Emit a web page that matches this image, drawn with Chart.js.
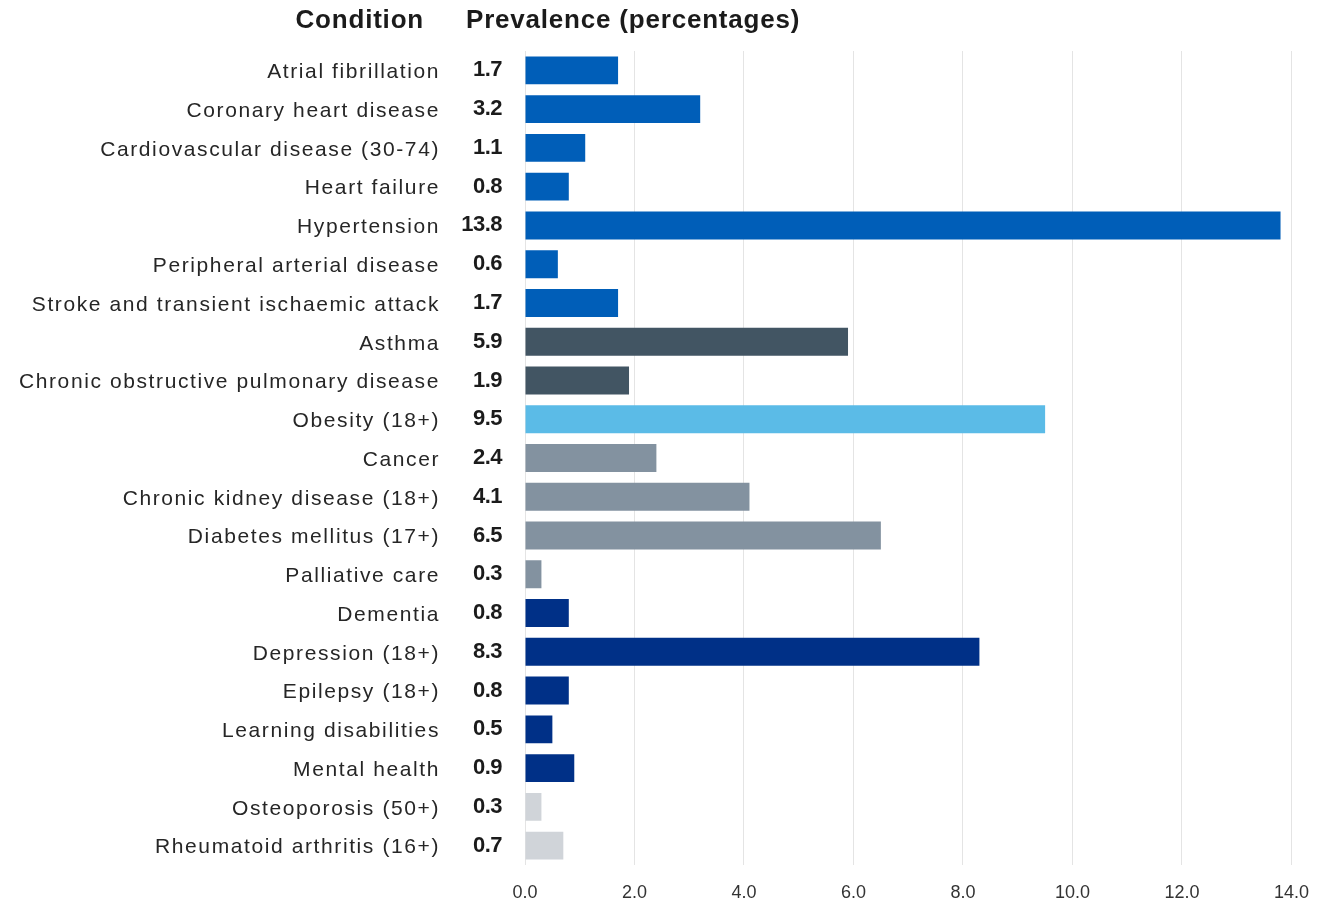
<!DOCTYPE html>
<html>
<head>
<meta charset="utf-8">
<script src="https://cdn.jsdelivr.net/npm/chart.js@4"></script>
<style>
  html, body { margin: 0; padding: 0; background: #fff; }
  canvas { display: block; }
</style>
</head>
<body>
<canvas id="chart" width="1326" height="906"></canvas>
<script>
// conditions, top to bottom
const conditions = [
  'Atrial fibrillation', 'Coronary heart disease', 'Cardiovascular disease (30-74)',
  'Heart failure', 'Hypertension', 'Peripheral arterial disease',
  'Stroke and transient ischaemic attack', 'Asthma', 'Chronic obstructive pulmonary disease',
  'Obesity (18+)', 'Cancer', 'Chronic kidney disease (18+)', 'Diabetes mellitus (17+)',
  'Palliative care', 'Dementia', 'Depression (18+)', 'Epilepsy (18+)',
  'Learning disabilities', 'Mental health', 'Osteoporosis (50+)', 'Rheumatoid arthritis (16+)'
];
const prevalence = [1.7, 3.2, 1.1, 0.8, 13.8, 0.6, 1.7, 5.9, 1.9, 9.5, 2.4, 4.1, 6.5, 0.3, 0.8, 8.3, 0.8, 0.5, 0.9, 0.3, 0.7];
// condition group for each row
const groups = ['cv', 'cv', 'cv', 'cv', 'cv', 'cv', 'cv', 'resp', 'resp', 'obes', 'grey', 'grey', 'grey', 'grey',
  'mh', 'mh', 'mh', 'mh', 'mh', 'msk', 'msk'];
const groupColours = { cv: '#005EB8', resp: '#425563', obes: '#5BBBE7', grey: '#8392A0', mh: '#003087', msk: '#D0D4D9' };
const xTicks = [0, 2, 4, 6, 8, 10, 12, 14];

const CHART_LEFT = 525;

const overlay = {
  id: 'overlay',
  afterDraw(chart) {
    const ctx = chart.ctx;
    const y = chart.scales.y;
    ctx.save();
    ctx.fillStyle = '#1b1b1b';
    ctx.textBaseline = 'middle';
    // headings
    ctx.font = 'bold 26px "Liberation Sans", Arial, sans-serif';
    ctx.letterSpacing = '0.8px';
    ctx.textAlign = 'right';
    ctx.fillText('Condition', 424, 21);
    ctx.textAlign = 'left';
    ctx.fillText('Prevalence (percentages)', 466, 21);
    // condition names
    ctx.font = '21px "Liberation Sans", Arial, sans-serif';
    ctx.letterSpacing = '1.6px';
    ctx.fillStyle = '#262626';
    ctx.textAlign = 'right';
    conditions.forEach((c, i) => {
      ctx.fillText(c, 440, y.getPixelForValue(i) + 2);
    });
    // values
    ctx.font = 'bold 22px "Liberation Sans Narrow", "Liberation Sans", Arial, sans-serif';
    ctx.letterSpacing = '-0.5px';
    ctx.fillStyle = '#1b1b1b';
    prevalence.forEach((v, i) => {
      ctx.fillText(v.toFixed(1), 502, y.getPixelForValue(i));
    });
    ctx.restore();
  }
};

new Chart(document.getElementById('chart'), {
  type: 'bar',
  data: {
    labels: conditions,
    datasets: [{
      data: prevalence,
      backgroundColor: groups.map(g => groupColours[g]),
      categoryPercentage: 0.72,
      barPercentage: 1.0
    }]
  },
  options: {
    indexAxis: 'y',
    responsive: false,
    animation: false,
    layout: { padding: { top: 51, right: 32, bottom: 0, left: 0 } },
    plugins: { legend: { display: false }, tooltip: { enabled: false } },
    scales: {
      x: {
        min: 0,
        max: 14,
        afterBuildTicks: s => { s.ticks = xTicks.map(v => ({ value: v })); },
        afterFit: s => { s.height = 41; },
        grid: { color: '#e4e4e4', drawTicks: false },
        border: { display: false },
        ticks: {
          padding: 17,
          color: '#333',
          font: { family: '"Liberation Sans", Arial, sans-serif', size: 18 },
          callback: v => Number(v).toFixed(1)
        }
      },
      y: {
        afterFit: s => { s.width = CHART_LEFT; },
        grid: { display: false },
        border: { display: false },
        ticks: { display: false, autoSkip: false }
      }
    }
  },
  plugins: [overlay]
});
</script>
</body>
</html>
